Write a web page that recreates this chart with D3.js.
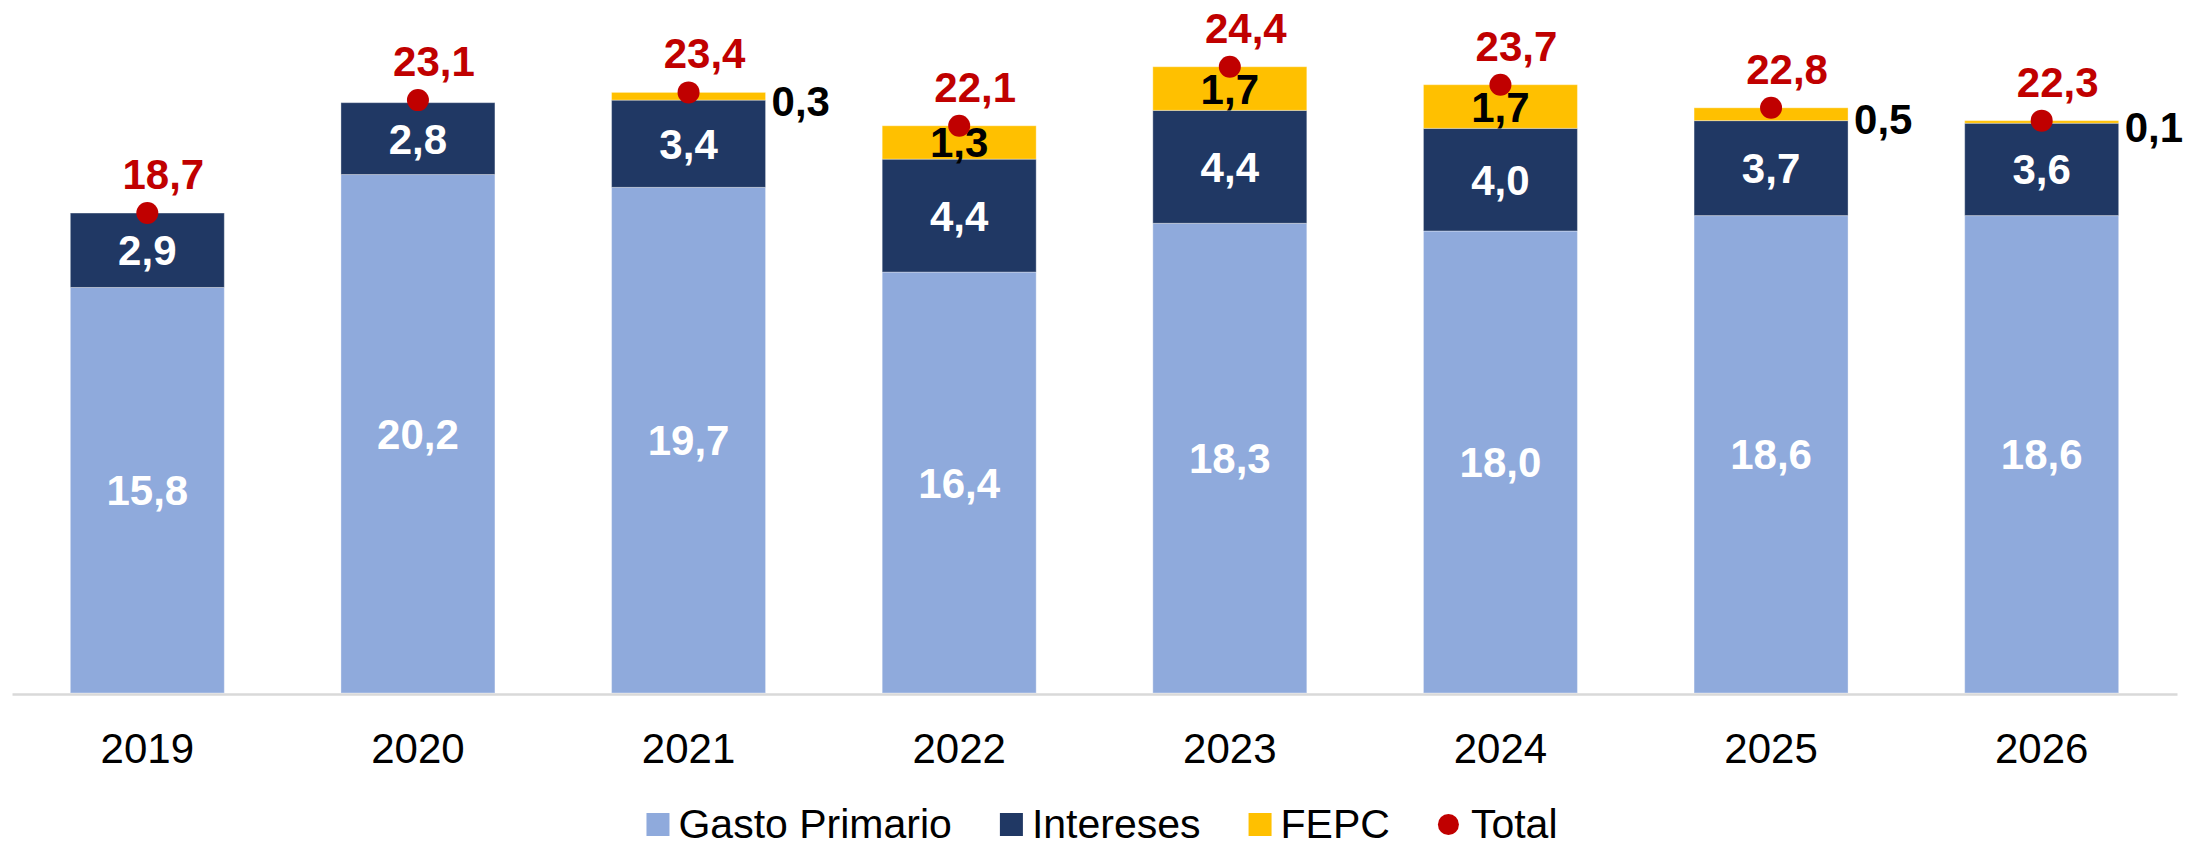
<!DOCTYPE html>
<html><head><meta charset="utf-8">
<script src="https://cdn.jsdelivr.net/npm/d3@7"></script>
<style>
html,body{margin:0;padding:0;background:#fff;}
svg{display:block;font-family:"Liberation Sans",Arial,sans-serif;}
</style>
</head><body>
<svg id="chart" width="2196" height="848"></svg>
<script>
// ---- data ----
const years = ["2019","2020","2021","2022","2023","2024","2025","2026"];
const gastoPrimario = [15.8, 20.2, 19.7, 16.4, 18.3, 18.0, 18.6, 18.6];
const intereses     = [2.9, 2.8, 3.4, 4.4, 4.4, 4.0, 3.7, 3.6];
const fepc          = [0, 0, 0.3, 1.3, 1.7, 1.7, 0.5, 0.1];
const total         = [18.7, 23.1, 23.4, 22.1, 24.4, 23.7, 22.8, 22.3];
const seriesNames   = ["Gasto Primario", "Intereses", "FEPC", "Total"];
const seriesColors  = ["#8FAADC", "#203864", "#FFC000", "#C00000"];
const yDomain = [0, 27];

// ---- setup ----
const svg = d3.select("#chart");
const baseY = 693;
const fontSize = 42;
const fmt = v => d3.format(".1f")(v).replace(".", ",");

const x = d3.scaleBand().domain(years).range([12, 2177]).paddingInner(0.431).paddingOuter(0.2155);
const y = d3.scaleLinear().domain(yDomain).range([baseY, 0]);

const rows = years.map((yr, i) => ({year: yr, g: gastoPrimario[i], n: intereses[i], f: fepc[i], t: total[i]}));
const keys = ["g", "n", "f"];
const stack = d3.stack().keys(keys)(rows);

// bars
const layers = svg.append("g").selectAll("g").data(stack).join("g")
  .attr("fill", (d, i) => seriesColors[i]);
layers.selectAll("rect").data(d => d).join("rect")
  .attr("x", d => x(d.data.year))
  .attr("width", x.bandwidth())
  .attr("y", d => y(d[1]))
  .attr("height", d => Math.max(0, y(d[0]) - y(d[1])))
  .attr("stroke", "#ffffff").attr("stroke-opacity", 0.35).attr("stroke-width", 1);

// axis
const axis = svg.append("g").attr("transform", `translate(0,${baseY + 1})`)
  .call(d3.axisBottom(x).tickSize(0).tickPadding(0));
axis.select(".domain").attr("stroke", "#d9d9d9").attr("stroke-width", 2.5);
axis.selectAll(".tick text")
  .attr("y", 0).attr("dy", null)
  .attr("transform", "translate(0,69)")
  .attr("font-size", fontSize)
  .attr("font-family", '"Liberation Sans", Arial, sans-serif')
  .attr("fill", "#000");

// segment labels
const capHalf = fontSize * 0.716 / 2;
const lbl = svg.append("g").attr("font-size", fontSize).attr("font-weight", "bold");
stack.forEach((layer, li) => {
  layer.forEach(d => {
    const v = d[1] - d[0];
    if (v <= 0) return;
    const mid = (y(d[0]) + y(d[1])) / 2;
    const cx = x(d.data.year) + x.bandwidth() / 2;
    if (li === 2 && v < 1) {
      lbl.append("text")
        .attr("x", x(d.data.year) + x.bandwidth() + 6)
        .attr("y", mid + capHalf + 5)
        .attr("fill", "#000")
        .text(fmt(v));
    } else {
      lbl.append("text")
        .attr("x", cx).attr("y", mid + capHalf)
        .attr("text-anchor", "middle")
        .attr("fill", li === 2 ? "#000" : "#fff")
        .text(fmt(li === 0 ? d.data.g : li === 1 ? d.data.n : d.data.f));
    }
  });
});

// total dots and labels
svg.append("g").selectAll("circle").data(rows).join("circle")
  .attr("cx", d => x(d.year) + x.bandwidth() / 2)
  .attr("cy", d => y(d.t))
  .attr("r", 11)
  .attr("fill", seriesColors[3]);
svg.append("g").selectAll("text").data(rows).join("text")
  .attr("x", d => x(d.year) + x.bandwidth() / 2 + 16)
  .attr("y", d => y(d.t) - 24)
  .attr("text-anchor", "middle")
  .attr("font-size", fontSize).attr("font-weight", "bold")
  .attr("fill", seriesColors[3])
  .text(d => fmt(d.t));

// legend
const legFont = 41;
const legBase = 838;
const leg = svg.append("g").attr("font-size", legFont).attr("fill", "#000");
let cursor = 0;
seriesNames.forEach((name, i) => {
  const g = leg.append("g");
  if (i < 3) {
    g.append("rect").attr("x", cursor).attr("y", legBase - 25).attr("width", 23).attr("height", 23).attr("fill", seriesColors[i]);
    cursor += 23 + 9;
  } else {
    g.append("circle").attr("cx", cursor + 10.5).attr("cy", legBase - 13.5).attr("r", 10.5).attr("fill", seriesColors[i]);
    cursor += 21 + 12;
  }
  const t = g.append("text").attr("x", cursor).attr("y", legBase).attr("fill", "#000").text(name);
  cursor += t.node().getComputedTextLength();
  if (i < seriesNames.length - 1) cursor += 48;
});
leg.attr("transform", `translate(${1102 - cursor / 2},0)`);
</script>
</body></html>
